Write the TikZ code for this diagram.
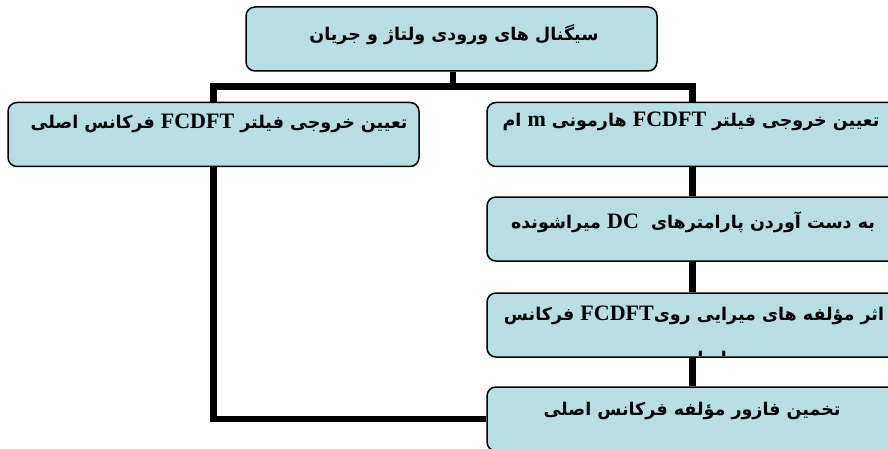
\documentclass[tikz,border=0pt]{standalone}
\usepackage{fontspec}
\usetikzlibrary{backgrounds}
\TeXXeTstate=1
\newfontfamily\fa[Script=Arabic]{DejaVu Sans}
\newfontfamily\lat{Liberation Serif}
\definecolor{boxfill}{RGB}{183,222,226}
\newcommand{\fcd}{\beginL{\lat\bfseries\fontsize{22}{24}\selectfont FCDFT}\endL{}}
\tikzset{
  box/.style={draw=black, line width=1.5pt, fill=boxfill, rounded corners=9pt,
    minimum width=411pt, minimum height=64pt, inner sep=0pt},
  lbl/.style={font=\fa\bfseries\fontsize{17.5}{20}\selectfont, text=black, inner sep=0pt},
  conn/.style={draw=black, line width=6.5pt, line join=miter}
}
\begin{document}
\begin{tikzpicture}[x=1pt,y=-1pt]
\useasboundingbox (0,0) rectangle (888,449);
\clip (0,0) rectangle (888,449);
\node[box] (top) at (451.5,39) {};
\node[box] (left) at (213.5,134.5) {};
\node[box] (b2) at (692.5,134.5) {};
\node[box] (b3) at (692.5,229) {};
\node[box] (b4) at (692.5,325) {};
\node[box] (b5) at (692.5,419) {};
\coordinate (bar) at (453,86.5);
\begin{scope}[on background layer]
  \draw[conn] (top.south -| bar) -- (bar);
  \draw[conn] (b5.west) -| (left.north) |- (bar) -| (b2.north);
  \draw[conn] (b2.south) -- (b3.north);
  \draw[conn] (b3.south) -- (b4.north);
  \draw[conn] (b4.south) -- (b5.north);
\end{scope}
\node[lbl] (ttop) at (454,35) {\beginR سیگنال های ورودی ولتاژ و جریان\endR};
\node[lbl] (tleft) at (219,123) {\beginR تعیین خروجی فیلتر \fcd{} فرکانس اصلی\endR};
\node[lbl] (tb2) at (691,121) {\beginR تعیین خروجی فیلتر \fcd{} هارمونی \beginL{\lat\bfseries\fontsize{22}{24}\selectfont m}\endL{} ام\endR};
\node[lbl] (tb3) at (693,222) {\beginR به دست آوردن پارامترهای \ \beginL{\lat\bfseries\fontsize{22}{24}\selectfont DC}\endL{} میراشونده\endR};
\node[lbl] (tb4) at (694,315) {\beginR اثر مؤلفه های میرایی روی\fcd{} فرکانس\endR};
\begin{scope}
  \clip (0,0) rectangle (888,355);
  \node[lbl] (tb4b) at (703,359) {\beginR اصلی\endR};
\end{scope}
\node[lbl] (tb5) at (692,411) {\beginR تخمین فازور مؤلفه فرکانس اصلی\endR};
\end{tikzpicture}
\end{document}
